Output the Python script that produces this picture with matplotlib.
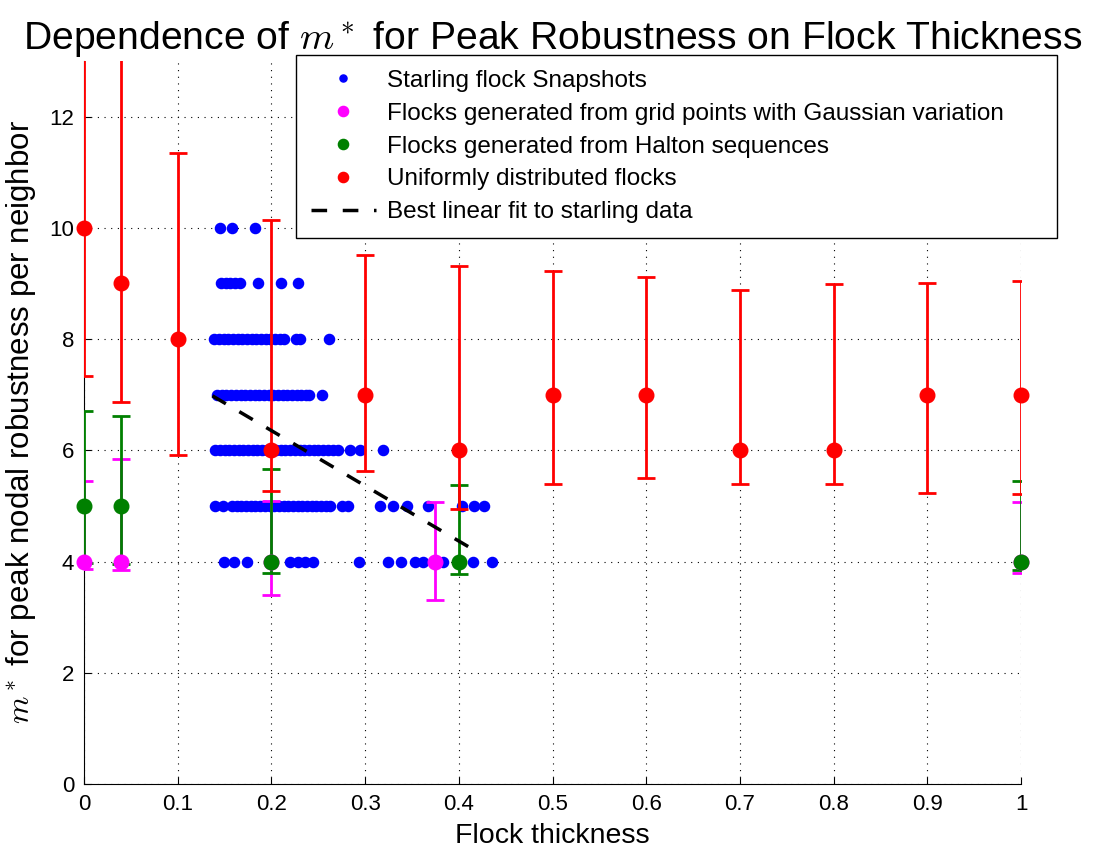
import numpy as np
import matplotlib
matplotlib.use("Agg")
import matplotlib.pyplot as plt

# ─── DATA ─────────────────────────────────────────────────────────────
# starling snapshots: flock thickness per integer m* row
starling_x_10 = [0.145, 0.158, 0.183]
starling_x_9 = [0.146, 0.151, 0.156, 0.161, 0.166, 0.186, 0.210, 0.228]
starling_x_8 = [0.139, 0.144, 0.149, 0.154, 0.159, 0.164, 0.169, 0.174, 0.179,
                0.184, 0.189, 0.194, 0.199, 0.204, 0.209, 0.213, 0.226, 0.231, 0.261]
starling_x_7 = [0.142, 0.147, 0.152, 0.157, 0.162, 0.167, 0.172, 0.177, 0.182,
                0.187, 0.192, 0.197, 0.202, 0.207, 0.212, 0.217, 0.222, 0.227,
                0.232, 0.237, 0.240, 0.254]
starling_x_6 = [0.140, 0.145, 0.150, 0.155, 0.160, 0.165, 0.170, 0.175, 0.180,
                0.185, 0.190, 0.195, 0.200, 0.205, 0.210, 0.215, 0.220, 0.225,
                0.230, 0.235, 0.240, 0.245, 0.250, 0.255, 0.260, 0.266, 0.271,
                0.284, 0.294, 0.319]
starling_x_5 = [0.140, 0.148, 0.158, 0.163, 0.168, 0.173, 0.178, 0.183, 0.188,
                0.193, 0.198, 0.203, 0.208, 0.213, 0.218, 0.223, 0.228, 0.233,
                0.238, 0.243, 0.248, 0.253, 0.258, 0.262, 0.275, 0.282, 0.316,
                0.330, 0.345, 0.367, 0.403, 0.416, 0.427]
starling_x_4 = [0.149, 0.160, 0.174, 0.220, 0.228, 0.236, 0.244, 0.293, 0.324,
                0.338, 0.353, 0.362, 0.376, 0.383, 0.415, 0.435]
starling_rows = {10: starling_x_10, 9: starling_x_9, 8: starling_x_8, 7: starling_x_7,
                 6: starling_x_6, 5: starling_x_5, 4: starling_x_4}

# grid points with gaussian variation
gauss_x = [0.0, 0.04, 0.2, 0.375, 1.0]
gauss_m = [4, 4, 4, 4, 4]
gauss_lo = [3.87, 3.84, 3.40, 3.31, 3.79]
gauss_hi = [5.45, 5.84, 5.09, 5.07, 5.07]

# halton sequences
halton_x = [0.0, 0.04, 0.2, 0.4, 1.0]
halton_m = [5, 5, 4, 4, 4]
halton_lo = [3.98, 3.95, 3.79, 3.78, 3.85]
halton_hi = [6.71, 6.62, 5.66, 5.38, 5.45]

# uniformly distributed
uniform_x = [0.0, 0.04, 0.1, 0.2, 0.3, 0.4, 0.5, 0.6, 0.7, 0.8, 0.9, 1.0]
uniform_m = [10, 9, 8, 6, 7, 6, 7, 7, 6, 6, 7, 7]
uniform_lo = [7.34, 6.86, 5.92, 5.27, 5.63, 4.94, 5.40, 5.50, 5.40, 5.40, 5.23, 5.22]
uniform_hi = [14.0, 14.0, 11.34, 10.15, 9.52, 9.31, 9.23, 9.12, 8.88, 8.99, 9.01, 9.05]

# best linear fit to starling data (end points)
fit_x = [0.137, 0.422]
fit_m = [6.98, 4.15]

# ─── STYLE ────────────────────────────────────────────────────────────
plt.rcParams["font.family"] = ["Liberation Sans", "DejaVu Sans"]
plt.rcParams["mathtext.fontset"] = "cm"

BLUE = (0, 0, 1)
MAGENTA = (1, 0, 1)
GREEN = (0, 0.5, 0)
RED = (1, 0, 0)


def draw_errs(ax, x, m, lo, hi, color, label):
    m = np.asarray(m, float)
    yerr = [m - np.asarray(lo), np.asarray(hi) - m]
    ax.errorbar(x, m, yerr=yerr, fmt="none", ecolor=color, elinewidth=2.0,
                capsize=6.5, capthick=2.0, zorder=3)
    ax.plot(x, m, "o", color=color, markersize=10.5, label=label, zorder=4,
            clip_on=False)


def main():
    fig = plt.figure(figsize=(10.94, 8.52), dpi=100)
    ax = fig.add_axes([0.0768, 0.0798, 0.8565, 0.8486])

    # starling snapshots
    sx, sy = [], []
    for m_val, xs in starling_rows.items():
        sx += xs
        sy += [m_val] * len(xs)
    ax.plot(sx, sy, "o", color=BLUE, markersize=7.3, label="Starling flock Snapshots",
            zorder=2)

    draw_errs(ax, gauss_x, gauss_m, gauss_lo, gauss_hi, MAGENTA,
              "Flocks generated from grid points with Gaussian variation")
    draw_errs(ax, halton_x, halton_m, halton_lo, halton_hi, GREEN,
              "Flocks generated from Halton sequences")
    draw_errs(ax, uniform_x, uniform_m, uniform_lo, uniform_hi, RED,
              "Uniformly distributed flocks")

    ax.plot(fit_x, fit_m, "--", color="k", lw=2.5, dashes=(4.5, 4.5),
            label="Best linear fit to starling data", zorder=5)

    # axes
    ax.set_xlim(0, 1)
    ax.set_ylim(0, 13)
    ax.set_xticks(np.arange(0, 1.01, 0.1))
    ax.set_xticklabels(["0", "0.1", "0.2", "0.3", "0.4", "0.5", "0.6", "0.7",
                        "0.8", "0.9", "1"])
    ax.set_yticks(np.arange(0, 13, 2))
    ax.tick_params(direction="in", length=5, width=0.8, labelsize=16, pad=7)
    ax.spines["top"].set_visible(False)
    ax.spines["right"].set_visible(False)
    ax.grid(True, color="k", linestyle=(0, (1, 5)), linewidth=0.8)
    ax.set_axisbelow(True)

    ax.set_xlabel("Flock thickness", fontsize=20.5, labelpad=6)
    ax.set_ylabel("$m^*$ for peak nodal robustness per neighbor", fontsize=22.5,
                  labelpad=8)
    ax.set_title("Dependence of $m^*$ for Peak Robustness on Flock Thickness",
                 fontsize=28.2, pad=8)

    leg = ax.legend(loc="upper left",
                    bbox_to_anchor=(296 / 1094, 1 - 242 / 852, 761 / 1094, 187 / 852),
                    bbox_transform=fig.transFigure, mode="expand", fontsize=17.5,
                    frameon=True, fancybox=False, framealpha=1, edgecolor="k",
                    handlelength=2.7, handletextpad=0.45, labelspacing=0.45,
                    borderpad=0.6, borderaxespad=0, markerscale=0.7)
    leg.get_frame().set_linewidth(1.0)
    leg.set_zorder(10)

    fig.savefig("out.png", dpi=100)


if __name__ == "__main__":
    main()
